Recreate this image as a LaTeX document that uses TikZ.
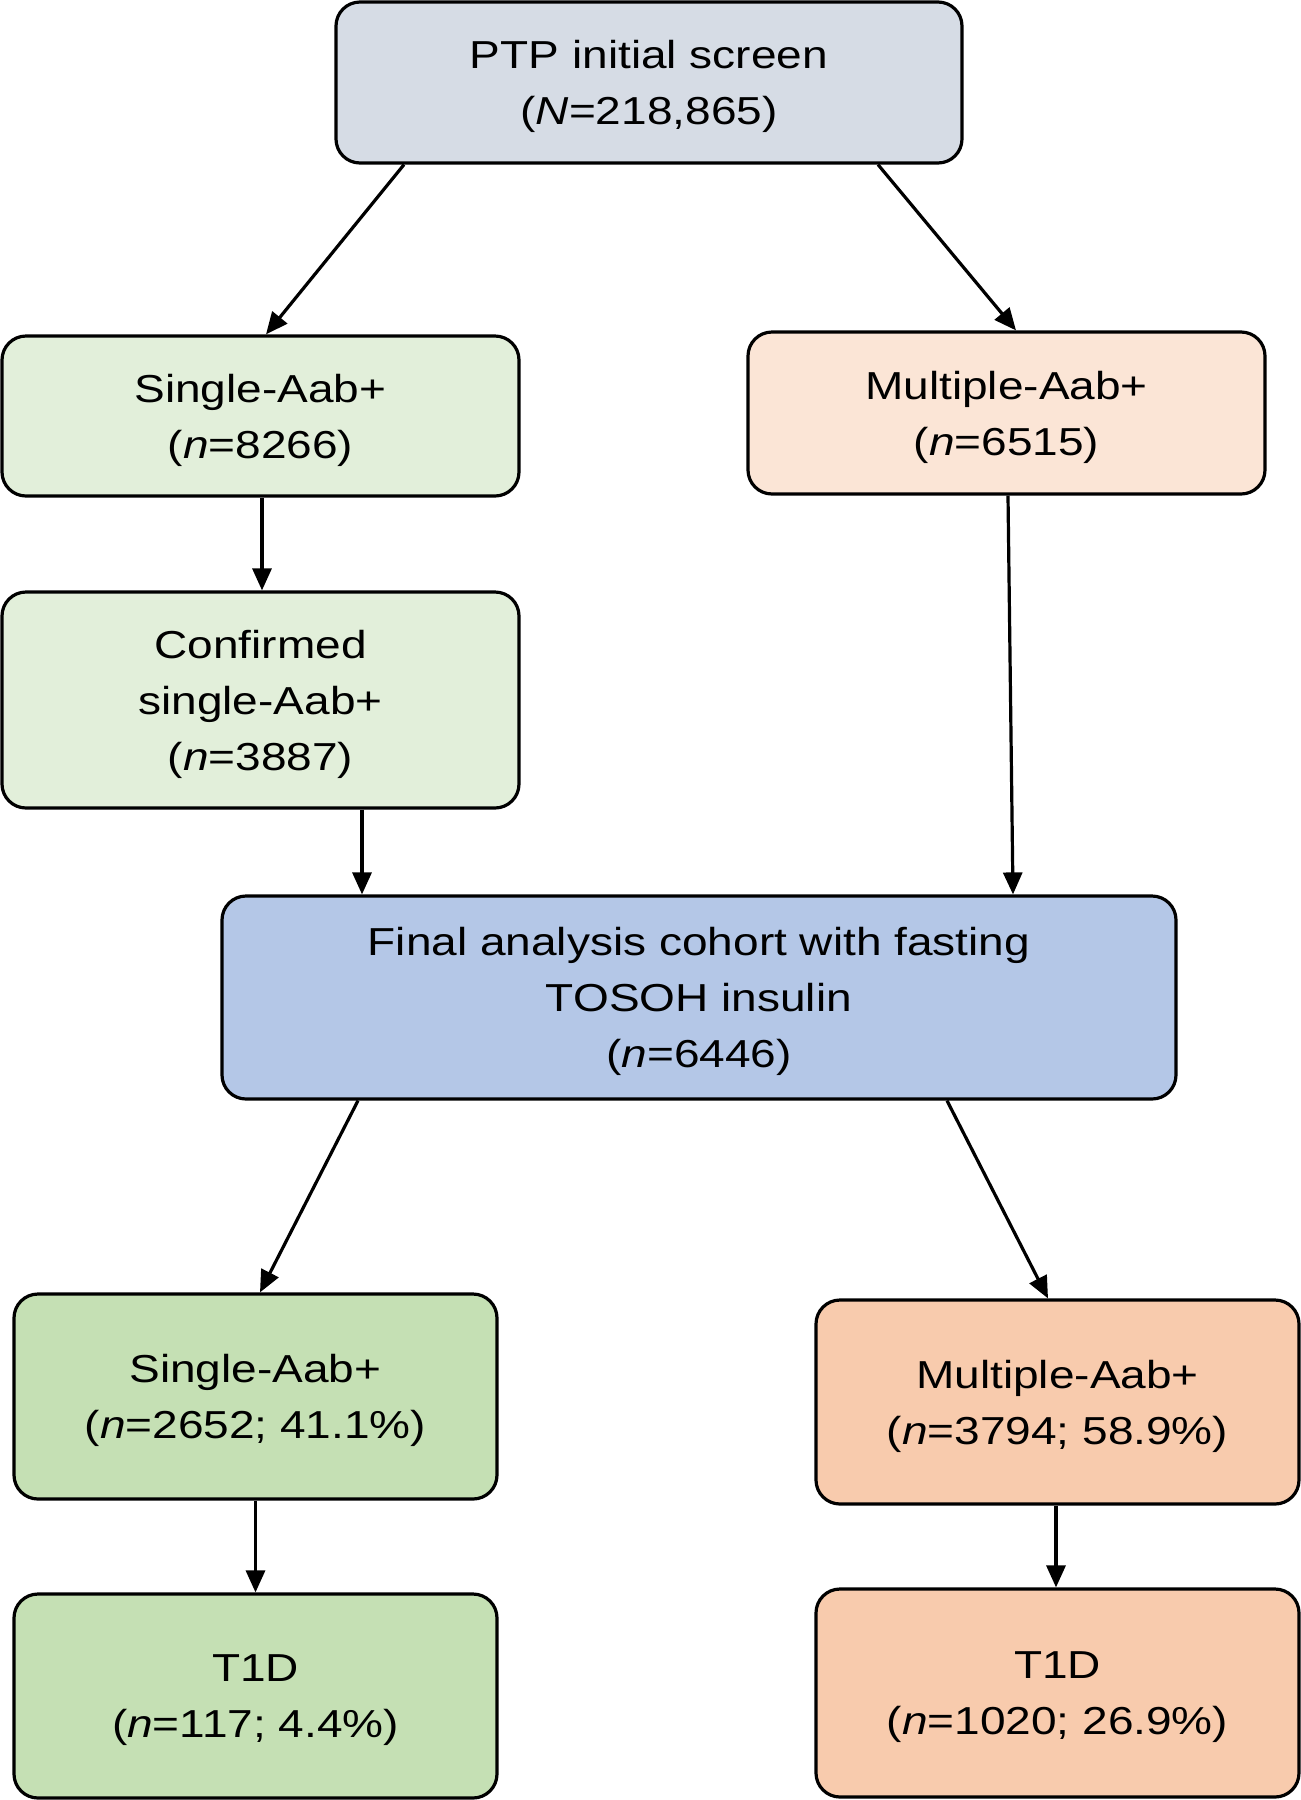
\documentclass[tikz,border=0pt]{standalone}
\usepackage{fontspec}
\setmainfont[FakeStretch=1.18]{Liberation Sans}
\usetikzlibrary{arrows.meta}
\definecolor{cTop}{HTML}{D6DCE5}
\definecolor{cGreenL}{HTML}{E2EFDA}
\definecolor{cPeachL}{HTML}{FBE5D6}
\definecolor{cBlue}{HTML}{B4C7E7}
\definecolor{cGreen}{HTML}{C5E0B4}
\definecolor{cPeach}{HTML}{F8CBAD}
\begin{document}
\begin{tikzpicture}[x=1pt,y=-1pt,
  box/.style={draw=black, line width=3.2pt, rounded corners=24pt, align=center,
    font=\fontsize{39}{56}\selectfont, inner sep=0pt, text depth=0pt},
  arr/.style={line width=3.2pt, -{Triangle[length=22pt,width=19pt]}}]
\path[use as bounding box] (0,0) rectangle (1301,1800);
\node[box, fill=cTop, minimum width=626pt, minimum height=161pt] (top) at (649,82.5)
  {PTP initial screen\\(\textit{N}=218,865)};
\node[box, fill=cGreenL, minimum width=517pt, minimum height=160pt] (s1) at (260.5,416)
  {Single-Aab+\\(\textit{n}=8266)};
\node[box, fill=cPeachL, minimum width=517pt, minimum height=162pt] (m1) at (1006.5,413)
  {Multiple-Aab+\\(\textit{n}=6515)};
\node[box, fill=cGreenL, minimum width=517pt, minimum height=216pt] (conf) at (260.5,700)
  {Confirmed\\single-Aab+\\(\textit{n}=3887)};
\node[box, fill=cBlue, minimum width=954pt, minimum height=203pt] (fin) at (699,997.5)
  {Final analysis cohort with fasting\\TOSOH insulin\\(\textit{n}=6446)};
\node[box, fill=cGreen, minimum width=483pt, minimum height=205pt] (s2) at (255.5,1396.5)
  {Single-Aab+\\(\textit{n}=2652; 41.1\%)};
\node[box, fill=cPeach, minimum width=483pt, minimum height=204pt] (m2) at (1057.5,1402)
  {Multiple-Aab+\\(\textit{n}=3794; 58.9\%)};
\node[box, fill=cGreen, minimum width=483pt, minimum height=204pt] (t1) at (255.5,1696)
  {T1D\\(\textit{n}=117; 4.4\%)};
\node[box, fill=cPeach, minimum width=483pt, minimum height=208pt] (t2) at (1057.5,1693)
  {T1D\\(\textit{n}=1020; 26.9\%)};
\draw[arr] ([xshift=-245pt]top.south) -- ([xshift=5.5pt]s1.north);
\draw[arr] ([xshift=229pt]top.south) -- ([xshift=9.5pt]m1.north);
\draw[arr] ([xshift=1.5pt]s1.south) -- ([xshift=1.5pt]conf.north);
\draw[arr] ([xshift=101.5pt]conf.south) -- ([xshift=-337pt]fin.north);
\draw[arr] ([xshift=1.5pt]m1.south) -- ([xshift=314pt]fin.north);
\draw[arr] ([xshift=-341pt]fin.south) -- ([xshift=4.5pt]s2.north);
\draw[arr] ([xshift=248pt]fin.south) -- ([xshift=-9.5pt]m2.north);
\draw[arr] (s2.south) -- (t1.north);
\draw[arr] ([xshift=-1.5pt]m2.south) -- ([xshift=-1.5pt]t2.north);
\end{tikzpicture}
\end{document}
